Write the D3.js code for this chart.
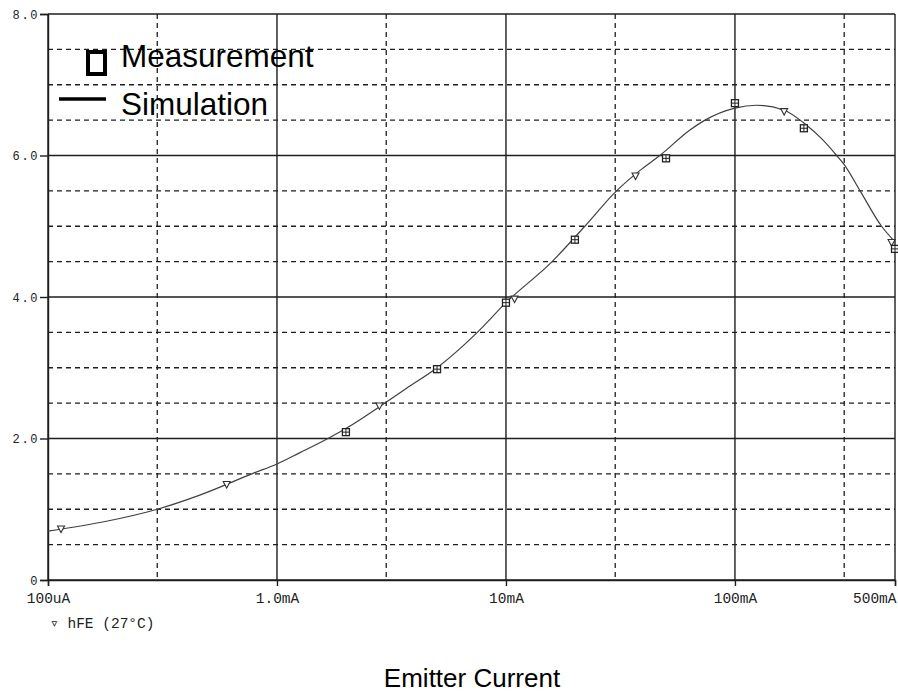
<!DOCTYPE html>
<html>
<head>
<meta charset="utf-8">
<script src="https://cdn.jsdelivr.net/npm/d3@7"></script>
<style>
html,body{margin:0;padding:0;background:#fff;}
svg{display:block;}
</style>
</head>
<body>
<svg id="chart" width="898" height="696"></svg>
<script>
// ---- data (emitter current in mA, hFE as on axis) ----
const simCurrent = [0.1, 0.18, 0.3, 0.46, 0.79, 1.0, 1.26, 1.67, 2.0, 2.96, 3.68, 5, 7.5, 10, 15.9, 22.1, 30.4, 38.5, 47, 63.6, 74, 100, 124, 164, 200, 242, 278, 300, 352, 437, 500];
const simValue   = [0.69, 0.83, 1.0, 1.2, 1.51, 1.64, 1.8, 2.0, 2.14, 2.5, 2.71, 3.0, 3.5, 3.92, 4.5, 5.0, 5.5, 5.79, 6.0, 6.36, 6.5, 6.67, 6.71, 6.64, 6.46, 6.22, 6.0, 5.87, 5.5, 5.0, 4.78];
const measCurrent = [2, 5, 10, 20, 50, 100, 200, 500];
const measValue   = [2.09, 2.98, 3.92, 4.81, 5.96, 6.74, 6.385, 4.68];
const traceMarkCurrent = [0.114, 0.603, 2.8, 10.9, 36.8, 164, 483];
const traceMarkValue   = [0.72, 1.35, 2.46, 3.97, 5.71, 6.62, 4.77];
const xMajorTicks = [0.1, 1, 10, 100, 500];
const xTickLabels = ["100uA", "1.0mA", "10mA", "100mA", "500mA"];
const xMinorGrid = [0.3, 3, 30, 300];
const yMajorTicks = [0, 2, 4, 6, 8];
const yTickLabels = ["0", "2.0", "4.0", "6.0", "8.0"];
const yMinorGrid = [0.5, 1, 1.5, 2.5, 3, 3.5, 4.5, 5, 5.5, 6.5, 7, 7.5];
const legendLabels = ["Measurement", "Simulation"];
const traceLabel = "\u25BF hFE (27\u00B0C)";
const xTitle = "Emitter Current";

// ---- layout ----
const svg = d3.select("#chart");
const L = 48, R = 895, T = 14, B = 580;
const x = d3.scaleLog().domain([0.1, 500]).range([L, R]);
const y = d3.scaleLinear().domain([0, 8]).range([B, T]);
const ink = "#1e1e1e";

// grid: dashed minor
const g = svg.append("g");
g.selectAll("line.hmin").data(yMinorGrid).join("line")
  .attr("x1", L).attr("x2", R).attr("y1", d => y(d)).attr("y2", d => y(d))
  .attr("stroke", ink).attr("stroke-width", 1.3).attr("stroke-dasharray", "5,4");
g.selectAll("line.vmin").data(xMinorGrid).join("line")
  .attr("y1", T).attr("y2", B).attr("x1", d => x(d)).attr("x2", d => x(d))
  .attr("stroke", ink).attr("stroke-width", 1.3).attr("stroke-dasharray", "5,4");
// grid: solid major
g.selectAll("line.hmaj").data(yMajorTicks).join("line")
  .attr("x1", L).attr("x2", R).attr("y1", d => y(d)).attr("y2", d => y(d))
  .attr("stroke", ink).attr("stroke-width", 1.4);
g.selectAll("line.vmaj").data(xMajorTicks).join("line")
  .attr("y1", T).attr("y2", B).attr("x1", d => x(d)).attr("x2", d => x(d))
  .attr("stroke", ink).attr("stroke-width", 1.4);

// axes
const yAxis = d3.axisLeft(y).tickValues(yMajorTicks).tickSize(8)
  .tickFormat((d, i) => yTickLabels[i]);
const ya = svg.append("g").attr("transform", `translate(${L},0)`).call(yAxis);
ya.select(".domain").attr("stroke", ink).attr("stroke-width", 1.4);
ya.selectAll(".tick line").attr("stroke", ink).attr("stroke-width", 1.4);
ya.selectAll(".tick text").attr("x", -9).attr("dy", "0.35em")
  .attr("font-family", "'Liberation Mono', monospace").attr("font-size", 12)
  .attr("letter-spacing", 1.6).attr("fill", "#222");

const xAxis = d3.axisBottom(x).tickValues(xMajorTicks).tickSize(6)
  .tickFormat((d, i) => xTickLabels[i]);
const xa = svg.append("g").attr("transform", `translate(0,${B})`).call(xAxis);
xa.select(".domain").attr("stroke", ink).attr("stroke-width", 1.4);
xa.selectAll(".tick line").attr("stroke", ink).attr("stroke-width", 1.4);
xa.selectAll(".tick text").attr("y", 13).attr("dy", "0.71em")
  .attr("font-family", "'Liberation Mono', monospace").attr("font-size", 14.5)
  .attr("fill", "#222")
  .attr("text-anchor", (d, i) => i === xMajorTicks.length - 1 ? "end" : "middle")
  .attr("x", (d, i) => i === xMajorTicks.length - 1 ? 1 : 0);

// simulation curve
const simData = simCurrent.map((c, i) => [c, simValue[i]]);
const line = d3.line().x(d => x(d[0])).y(d => y(d[1])).curve(d3.curveMonotoneX);
svg.append("path").datum(simData).attr("d", line)
  .attr("fill", "none").attr("stroke", "#404040").attr("stroke-width", 1.2);

// trace markers (down triangles)
svg.selectAll("path.tri").data(traceMarkCurrent.map((c, i) => [c, traceMarkValue[i]])).join("path")
  .attr("d", d => {
    const cx = x(d[0]), cy = y(d[1]);
    return `M${cx - 3.5},${cy - 3}L${cx + 3.5},${cy - 3}L${cx},${cy + 3.5}Z`;
  })
  .attr("fill", "#fff").attr("stroke", "#333").attr("stroke-width", 1.1);

// measurement markers (square with cross)
const mg = svg.selectAll("g.meas").data(measCurrent.map((c, i) => [c, measValue[i]])).join("g")
  .attr("transform", d => `translate(${x(d[0])},${y(d[1])})`);
mg.append("rect").attr("x", -3.5).attr("y", -3.5).attr("width", 7).attr("height", 7)
  .attr("fill", "#fff").attr("stroke", "#222").attr("stroke-width", 1.3);
mg.append("line").attr("x1", -3.5).attr("x2", 3.5).attr("y1", 0).attr("y2", 0)
  .attr("stroke", "#222").attr("stroke-width", 1);
mg.append("line").attr("y1", -3.5).attr("y2", 3.5).attr("x1", 0).attr("x2", 0)
  .attr("stroke", "#222").attr("stroke-width", 1);

// legend
svg.append("rect").attr("x", 88).attr("y", 52).attr("width", 17).attr("height", 22)
  .attr("fill", "none").attr("stroke", "#000").attr("stroke-width", 4);
svg.append("line").attr("x1", 59).attr("x2", 106).attr("y1", 99).attr("y2", 99)
  .attr("stroke", "#000").attr("stroke-width", 3.5);
svg.selectAll("text.leg").data(legendLabels).join("text")
  .attr("x", 121).attr("y", (d, i) => i === 0 ? 67 : 115)
  .attr("font-family", "'Liberation Sans', Arial, sans-serif").attr("font-size", 31.5)
  .attr("fill", "#000").text(d => d);

// trace label under axis
svg.append("text").attr("x", 50).attr("y", 628)
  .attr("font-family", "'Liberation Mono', 'DejaVu Sans Mono', monospace").attr("font-size", 14.5)
  .attr("fill", "#222").text(traceLabel);

// x title
svg.append("text").attr("x", 472).attr("y", 687).attr("text-anchor", "middle")
  .attr("font-family", "'Liberation Sans', Arial, sans-serif").attr("font-size", 26)
  .attr("fill", "#000").text(xTitle);
</script>
</body>
</html>
